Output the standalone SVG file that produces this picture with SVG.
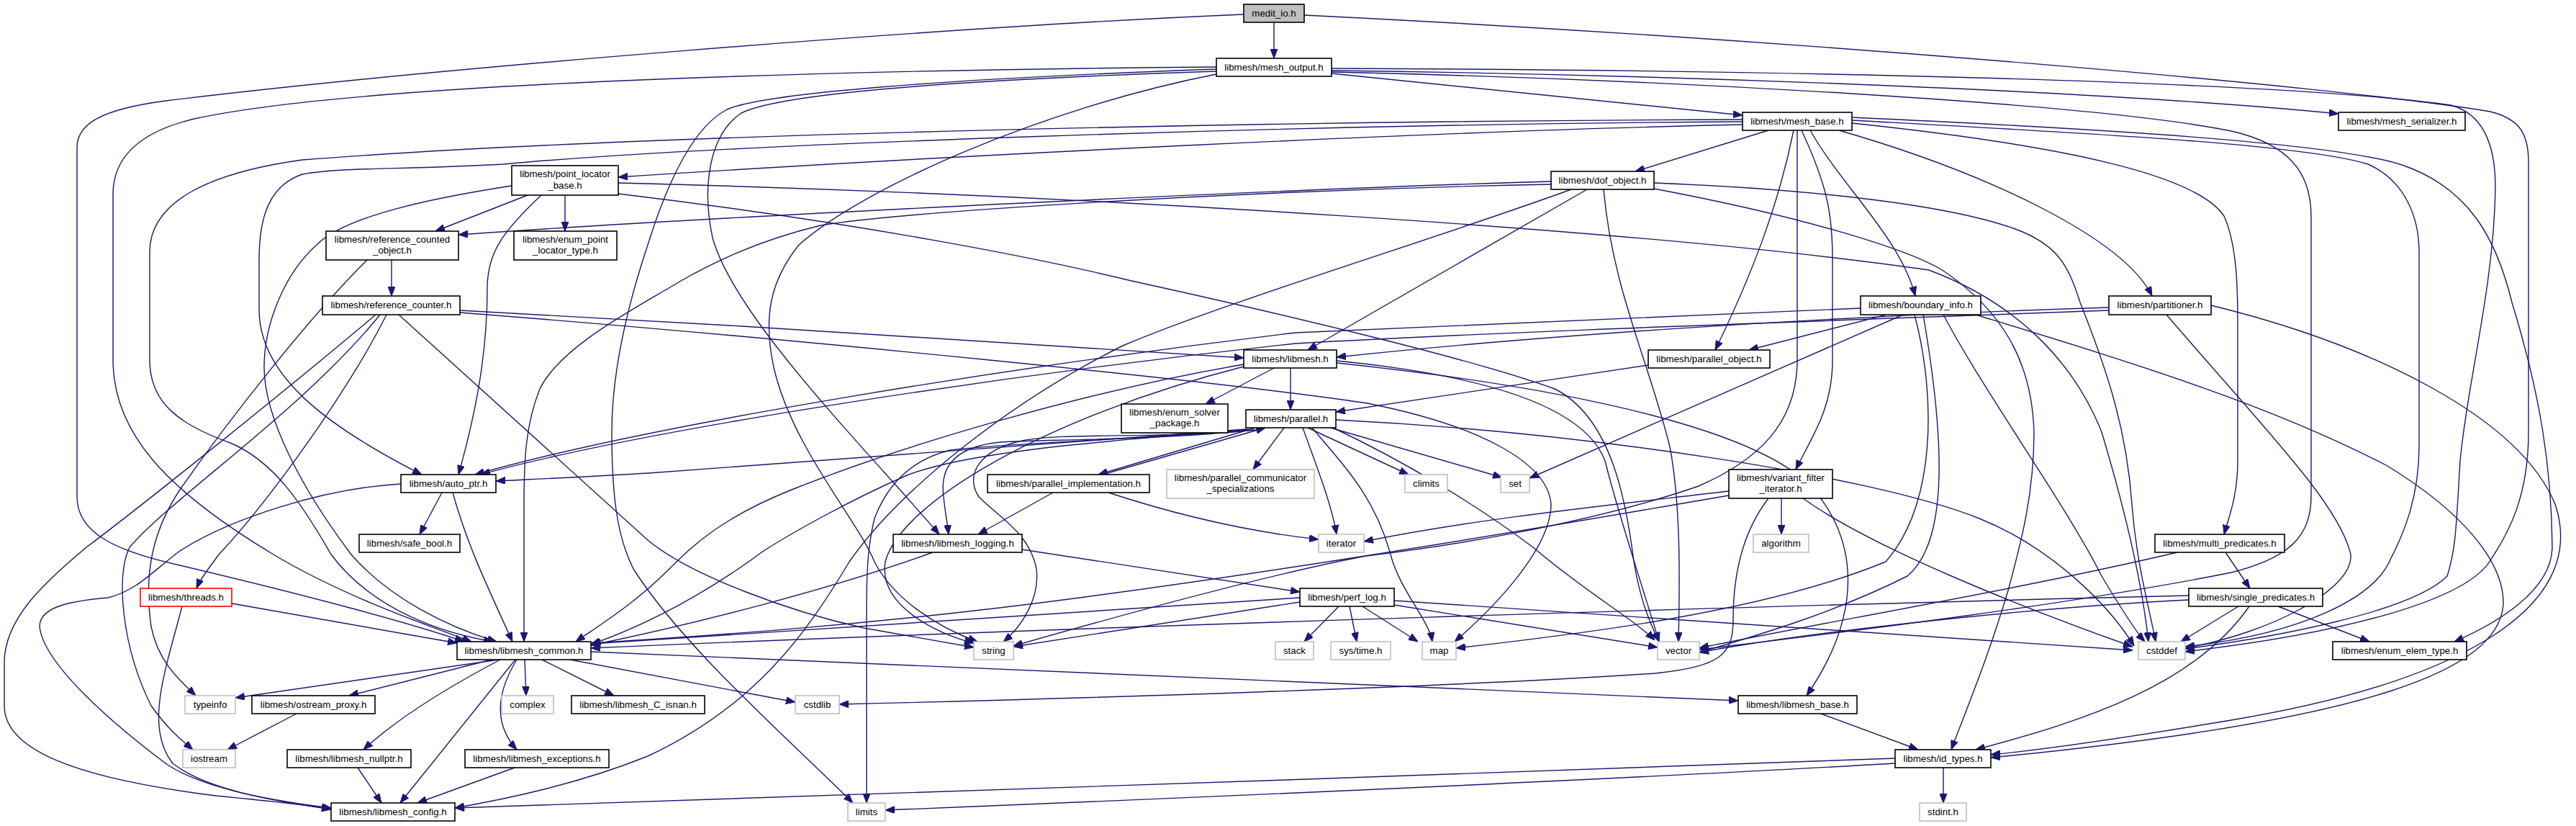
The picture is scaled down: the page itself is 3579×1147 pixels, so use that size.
<svg xmlns="http://www.w3.org/2000/svg" width="3579" height="1147" viewBox="0 0 3579 1147">
<defs>
<marker id="a" viewBox="0 0 13 10" markerWidth="13" markerHeight="10" refX="13" refY="5" orient="auto" markerUnits="userSpaceOnUse"><path d="M0,0 L13,5 L0,10 z" fill="#191970" stroke="#191970" stroke-width="1"/></marker>
<style>
.e path{fill:none;stroke:#191970;stroke-width:1.4;marker-end:url(#a)}
.n rect{fill:#fff;stroke:#000;stroke-width:1.6}
.g rect{fill:#fff;stroke:#bfbfbf;stroke-width:1.6}
.r rect{fill:#fff;stroke:#ff0000;stroke-width:1.6}
.m rect{fill:#bfbfbf;stroke:#000;stroke-width:1.6}
text{font-family:"Liberation Sans",Arial,sans-serif;font-size:13.3px;text-anchor:middle;fill:#000}
</style>
</defs>
<rect x="0" y="0" width="3579" height="1147" fill="#fff"/>
<g id="edges" class="e">
<path d="M1770,31 L1770,81"/>
<path d="M1728,20 C1300,38 600,95 230,140 C140,152 107,172 107,205 L107,690 C107,740 160,765 250,785 C420,825 570,865 645,891"/>
<path d="M1812,21 C2500,55 3250,120 3460,155 C3500,165 3513,185 3513,225 L3513,600 C3513,690 3485,740 3462,775 C3430,835 3250,880 3036,905"/>
<path d="M1850,102 L2421,160"/>
<path d="M1850,98 C2350,104 2950,128 3249,158"/>
<path d="M1850,95 C2400,97 3150,110 3405,146 C3450,158 3467,200 3467,260 C3465,400 3428,530 3418,640 C3413,720 3413,760 3400,800 C3350,850 3160,885 3036,901"/>
<path d="M1850,100 C2300,110 2900,142 3100,182 C3180,200 3211,240 3211,300 L3211,690 C3211,745 3180,775 3100,795 C2850,845 2500,885 2361,902"/>
<path d="M1690,93 C1300,96 520,110 270,165 C185,185 157,225 157,270 L157,500 C157,600 230,680 380,770 C480,830 600,870 655,891"/>
<path d="M1690,96 C1300,110 1060,130 1010,152 C960,178 925,260 900,340 C880,400 850,500 850,600 C850,700 860,750 880,790 C950,900 1100,1030 1185,1115"/>
<path d="M1690,99 C1300,112 1080,132 1030,157 C985,187 975,260 990,330 C1020,440 1200,620 1305,742"/>
<path d="M1690,103 C1450,150 1200,260 1110,340 C1070,390 1060,440 1075,510 C1100,620 1190,720 1215,780 C1240,830 1300,870 1358,891"/>
<path d="M2421,173 C2000,182 1300,217 859,246"/>
<path d="M2421,166 C1800,168 900,185 420,222 C290,240 208,280 208,350 L208,500 C208,560 250,590 320,615 C380,640 420,700 460,770 C520,850 620,880 685,891"/>
<path d="M2421,169 C1800,173 1000,200 700,228 C560,236 470,232 420,242 C375,257 360,300 360,360 L360,430 C360,520 450,590 586,659"/>
<path d="M2457,181 L2272,238"/>
<path d="M2515,181 C2560,260 2640,330 2661,411"/>
<path d="M2555,181 C2760,240 2950,330 2990,411"/>
<path d="M2492,181 C2470,290 2430,390 2383,486"/>
<path d="M2497,181 L2497,500 C2497,590 2440,640 2360,675 C2200,730 2000,760 1898,772 C1750,800 1520,865 1408,897"/>
<path d="M2503,181 C2540,260 2546,300 2546,360 L2546,500 C2546,570 2515,610 2495,652"/>
<path d="M2573,167 C2900,185 3200,200 3290,228 C3340,250 3361,300 3361,350 L3361,620 C3361,690 3340,740 3322,775 C3300,830 3200,880 3036,898"/>
<path d="M2573,163 C2900,178 3250,198 3340,230 C3430,262 3468,330 3490,420 C3530,550 3545,650 3546,760 C3545,820 3470,865 3410,891"/>
<path d="M2573,171 C2850,200 3050,240 3090,300 C3108,340 3109,400 3109,450 L3109,640 C3109,690 3096,720 3090,742"/>
<path d="M733,271 L605,321"/>
<path d="M752,271 C700,320 677,350 677,400 C677,480 665,560 637,659"/>
<path d="M785,271 L785,321"/>
<path d="M711,258 C600,275 480,300 440,340 C395,380 367,450 367,510 C367,580 420,680 488,770 C540,830 620,870 690,891"/>
<path d="M859,254 C1500,270 2300,320 2680,375 C2800,420 2880,500 2920,600 C2950,700 2975,800 2985,891"/>
<path d="M859,269 C1200,310 1450,360 1572,390 C1800,440 2050,500 2160,540 C2240,580 2260,700 2270,780 C2280,840 2295,870 2305,891"/>
<path d="M2155,252 C1800,262 1000,300 637,326"/>
<path d="M2155,256 C1700,265 1250,295 1140,313 C1050,335 990,365 946,390 C880,430 780,480 750,540 C730,590 728,640 728,700 L728,891"/>
<path d="M2205,263 L1817,486"/>
<path d="M2183,263 C2000,330 1700,420 1560,480 C1400,560 1250,680 1180,780 C1120,880 1050,980 900,1050 C800,1090 700,1110 632,1122"/>
<path d="M2228,263 C2240,400 2290,500 2320,620 C2335,700 2334,800 2332,891"/>
<path d="M2298,254 C2500,262 2700,282 2800,318 C2860,340 2874,370 2890,420 C2930,520 2955,600 2962,700 C2968,780 2985,840 2995,891"/>
<path d="M2298,262 C2500,300 2650,345 2700,376 C2780,430 2823,500 2826,600 C2826,690 2806,760 2790,820 C2760,920 2730,990 2711,1041"/>
<path d="M544,361 L544,411"/>
<path d="M510,361 C430,440 320,580 250,680 C210,740 200,800 210,870 C220,920 250,945 272,966"/>
<path d="M639,431 C1000,450 1400,475 1728,497"/>
<path d="M639,434 C1100,470 1700,530 1900,560 C2050,590 2150,640 2155,700 C2155,760 2080,840 2021,891"/>
<path d="M522,437 C400,540 200,700 120,760 C60,810 6,860 6,920 L6,980 C6,1040 100,1080 300,1105 C380,1113 430,1118 460,1123"/>
<path d="M537,437 C480,550 370,700 304,770 C290,790 280,800 273,817"/>
<path d="M528,437 C420,570 240,690 180,760 C160,800 170,900 210,980 C235,1015 255,1030 268,1041"/>
<path d="M554,437 L900,750 C960,800 1100,850 1200,872 C1290,888 1330,895 1353,899"/>
<path d="M322,838 L635,893"/>
<path d="M253,842 C230,930 200,1010 240,1060 C290,1100 400,1115 460,1124"/>
<path d="M2621,437 L2430,486"/>
<path d="M2585,428 C2300,440 2000,455 1800,462 C1400,510 900,590 660,659"/>
<path d="M2644,437 L2125,664"/>
<path d="M2660,437 C2690,550 2690,700 2620,780 C2450,850 2200,880 2023,900"/>
<path d="M2672,437 C2700,600 2710,750 2650,800 C2550,850 2450,880 2361,906"/>
<path d="M2700,437 C2760,550 2870,700 2920,800 C2950,850 2970,880 2980,891"/>
<path d="M2745,437 C2950,500 3150,560 3317,647 C3420,710 3480,780 3478,840 C3470,930 3300,1000 2766,1052"/>
<path d="M2930,427 C2500,440 2100,470 1857,496"/>
<path d="M2930,431 C2500,447 2100,460 1800,477 C1400,520 900,595 668,659"/>
<path d="M3010,437 C3150,600 3250,700 3266,770 C3270,820 3150,880 3036,900"/>
<path d="M3072,424 C3300,480 3500,580 3550,700 C3600,850 3400,950 3100,1000 C2950,1025 2850,1040 2766,1048"/>
<path d="M1770,511 L1675,561"/>
<path d="M1793,511 L1793,569"/>
<path d="M1728,506 C1500,545 1250,620 1100,680 C1000,720 960,760 930,790 C880,840 830,870 800,891"/>
<path d="M1728,509 C1450,580 1250,700 1230,780 C1220,840 1300,880 1353,893"/>
<path d="M1857,501 C2050,520 2200,560 2230,640 C2250,720 2290,840 2305,891"/>
<path d="M1857,504 C2200,540 2450,600 2520,680 C2580,750 2590,850 2510,966"/>
<path d="M2290,507 L1856,572"/>
<path d="M1744,594 L1526,659"/>
<path d="M1532,659 L1758,594"/>
<path d="M1784,594 L1741,652"/>
<path d="M1817,594 L1957,659"/>
<path d="M1845,593 L2087,663"/>
<path d="M1810,594 C1830,650 1850,700 1857,742"/>
<path d="M1823,594 C1870,650 1910,690 1932,770 C1945,820 1985,860 1990,891"/>
<path d="M1850,593 C1950,640 2050,700 2130,760 C2200,820 2270,860 2299,889"/>
<path d="M1856,583 C2200,600 2600,660 2750,720 C2850,760 2930,840 2965,897"/>
<path d="M1731,596 C1500,612 1200,635 900,657 C820,662 750,665 689,668"/>
<path d="M1735,596 C1550,612 1350,625 1260,660 C1180,695 1100,740 1061,765 C1000,810 920,860 821,895"/>
<path d="M1742,597 C1600,612 1450,610 1390,614 C1330,620 1305,645 1311,690 C1313,710 1316,725 1318,742"/>
<path d="M1745,597 C1600,610 1480,600 1420,612 C1360,625 1340,660 1360,690 C1390,720 1430,740 1440,790 C1445,830 1420,870 1394,891"/>
<path d="M1738,597 C1550,612 1400,615 1320,625 C1260,640 1230,680 1215,720 C1205,760 1204,800 1204,850 L1204,1115"/>
<path d="M1463,684 L1359,742"/>
<path d="M1540,684 C1650,720 1750,740 1832,749"/>
<path d="M2402,682 C2250,700 2050,720 1895,752"/>
<path d="M2475,692 L2475,742"/>
<path d="M2402,688 C2100,740 1800,790 1500,830 C1200,870 950,885 821,893"/>
<path d="M2505,692 C2600,760 2800,840 2963,898"/>
<path d="M2457,692 C2420,740 2408,800 2408,860 C2408,910 2390,925 2300,935 C2000,955 1500,970 1166,978"/>
<path d="M1420,763 L1806,822"/>
<path d="M1296,767 C1150,820 950,870 821,896"/>
<path d="M1860,842 L1812,891"/>
<path d="M1875,842 L1885,891"/>
<path d="M1893,842 L1970,891"/>
<path d="M1937,840 L2303,899"/>
<path d="M1937,834 L2963,903"/>
<path d="M1806,836 L1408,898"/>
<path d="M1806,830 L821,894"/>
<path d="M3092,767 L3126,817"/>
<path d="M3025,767 C2800,820 2500,870 2361,900"/>
<path d="M3110,842 L3030,891"/>
<path d="M3125,842 C3050,950 2900,1000 2745,1041"/>
<path d="M3165,842 L3292,891"/>
<path d="M3041,833 C2800,845 2500,880 2361,906"/>
<path d="M3041,827 C2500,840 1500,870 821,900"/>
<path d="M693,916 L327,969"/>
<path d="M683,916 L485,966"/>
<path d="M695,916 C640,945 560,990 505,1041"/>
<path d="M716,916 L556,1115"/>
<path d="M718,916 C685,970 690,1010 718,1041"/>
<path d="M729,916 L731,966"/>
<path d="M753,916 L853,966"/>
<path d="M792,916 L1105,975"/>
<path d="M821,905 C1500,935 2100,955 2415,973"/>
<path d="M412,991 L316,1041"/>
<path d="M497,1066 L530,1115"/>
<path d="M715,1066 L580,1115"/>
<path d="M2530,991 L2665,1041"/>
<path d="M2700,1066 L2700,1115"/>
<path d="M2633,1053 C2000,1075 1200,1105 632,1122"/>
<path d="M2633,1060 C2200,1085 1600,1110 1230,1125"/>
<path d="M614,684 L583,742"/>
<path d="M629,684 C650,760 680,820 712,891"/>
<path d="M557,672 C450,678 320,720 250,765 C210,795 190,820 150,830 C90,835 55,845 55,870 C60,920 150,1000 230,1060 C280,1095 380,1112 460,1122"/>
</g>
<g id="node-medit_io" class="m"><rect x="1728" y="6" width="84" height="25"/><text x="1770" y="23">medit_io.h</text></g>
<g id="node-mesh_output" class="n"><rect x="1690" y="81" width="160" height="25"/><text x="1770" y="98">libmesh/mesh_output.h</text></g>
<g id="node-mesh_base" class="n"><rect x="2421" y="156" width="152" height="25"/><text x="2497" y="173">libmesh/mesh_base.h</text></g>
<g id="node-mesh_serializer" class="n"><rect x="3249" y="156" width="176" height="25"/><text x="3337" y="173">libmesh/mesh_serializer.h</text></g>
<g id="node-point_locator_base" class="n"><rect x="711" y="230" width="148" height="41"/><text x="785" y="246">libmesh/point_locator</text><text x="785" y="262">_base.h</text></g>
<g id="node-dof_object" class="n"><rect x="2155" y="238" width="143" height="25"/><text x="2226.5" y="255">libmesh/dof_object.h</text></g>
<g id="node-reference_counted_object" class="n"><rect x="453" y="321" width="184" height="40"/><text x="545" y="337">libmesh/reference_counted</text><text x="545" y="352">_object.h</text></g>
<g id="node-enum_point_locator_type" class="n"><rect x="714" y="321" width="143" height="40"/><text x="785.5" y="337">libmesh/enum_point</text><text x="785.5" y="352">_locator_type.h</text></g>
<g id="node-reference_counter" class="n"><rect x="448" y="411" width="191" height="26"/><text x="543.5" y="428">libmesh/reference_counter.h</text></g>
<g id="node-boundary_info" class="n"><rect x="2585" y="411" width="167" height="26"/><text x="2668.5" y="428">libmesh/boundary_info.h</text></g>
<g id="node-partitioner" class="n"><rect x="2930" y="411" width="142" height="26"/><text x="3001" y="428">libmesh/partitioner.h</text></g>
<g id="node-libmesh" class="n"><rect x="1728" y="486" width="129" height="25"/><text x="1792.5" y="503">libmesh/libmesh.h</text></g>
<g id="node-parallel_object" class="n"><rect x="2290" y="486" width="169" height="25"/><text x="2374.5" y="503">libmesh/parallel_object.h</text></g>
<g id="node-enum_solver_package" class="n"><rect x="1558" y="561" width="148" height="40"/><text x="1632" y="577">libmesh/enum_solver</text><text x="1632" y="592">_package.h</text></g>
<g id="node-parallel" class="n"><rect x="1731" y="569" width="125" height="25"/><text x="1793.5" y="586">libmesh/parallel.h</text></g>
<g id="node-auto_ptr" class="n"><rect x="557" y="659" width="132" height="25"/><text x="623" y="676">libmesh/auto_ptr.h</text></g>
<g id="node-parallel_implementation" class="n"><rect x="1372" y="659" width="225" height="25"/><text x="1484.5" y="676">libmesh/parallel_implementation.h</text></g>
<g id="node-parallel_communicator_specializations" class="g"><rect x="1621" y="652" width="205" height="40"/><text x="1723.5" y="668">libmesh/parallel_communicator</text><text x="1723.5" y="683">_specializations</text></g>
<g id="node-climits" class="g"><rect x="1952" y="659" width="59" height="25"/><text x="1981.5" y="676">climits</text></g>
<g id="node-set" class="g"><rect x="2085" y="659" width="40" height="25"/><text x="2105" y="676">set</text></g>
<g id="node-variant_filter_iterator" class="n"><rect x="2402" y="652" width="144" height="40"/><text x="2474" y="668">libmesh/variant_filter</text><text x="2474" y="683">_iterator.h</text></g>
<g id="node-safe_bool" class="n"><rect x="499" y="742" width="140" height="25"/><text x="569" y="759">libmesh/safe_bool.h</text></g>
<g id="node-libmesh_logging" class="n"><rect x="1241" y="742" width="179" height="25"/><text x="1330.5" y="759">libmesh/libmesh_logging.h</text></g>
<g id="node-iterator" class="g"><rect x="1832" y="742" width="63" height="25"/><text x="1863.5" y="759">iterator</text></g>
<g id="node-algorithm" class="g"><rect x="2436" y="742" width="77" height="25"/><text x="2474.5" y="759">algorithm</text></g>
<g id="node-multi_predicates" class="n"><rect x="2994" y="742" width="180" height="25"/><text x="3084" y="759">libmesh/multi_predicates.h</text></g>
<g id="node-threads" class="r"><rect x="195" y="817" width="127" height="25"/><text x="258.5" y="834">libmesh/threads.h</text></g>
<g id="node-perf_log" class="n"><rect x="1806" y="817" width="131" height="25"/><text x="1871.5" y="834">libmesh/perf_log.h</text></g>
<g id="node-single_predicates" class="n"><rect x="3041" y="817" width="186" height="25"/><text x="3134" y="834">libmesh/single_predicates.h</text></g>
<g id="node-libmesh_common" class="n"><rect x="635" y="891" width="186" height="25"/><text x="728" y="908">libmesh/libmesh_common.h</text></g>
<g id="node-string" class="g"><rect x="1353" y="891" width="55" height="25"/><text x="1380.5" y="908">string</text></g>
<g id="node-stack" class="g"><rect x="1772" y="891" width="53" height="25"/><text x="1798.5" y="908">stack</text></g>
<g id="node-sys_time" class="g"><rect x="1849" y="891" width="83" height="25"/><text x="1890.5" y="908">sys/time.h</text></g>
<g id="node-map" class="g"><rect x="1976" y="891" width="47" height="25"/><text x="1999.5" y="908">map</text></g>
<g id="node-vector" class="g"><rect x="2303" y="891" width="58" height="25"/><text x="2332" y="908">vector</text></g>
<g id="node-cstddef" class="g"><rect x="2971" y="891" width="65" height="25"/><text x="3003.5" y="908">cstddef</text></g>
<g id="node-enum_elem_type" class="n"><rect x="3241" y="891" width="186" height="25"/><text x="3334" y="908">libmesh/enum_elem_type.h</text></g>
<g id="node-typeinfo" class="g"><rect x="257" y="966" width="70" height="25"/><text x="292" y="983">typeinfo</text></g>
<g id="node-ostream_proxy" class="n"><rect x="350" y="966" width="171" height="25"/><text x="435.5" y="983">libmesh/ostream_proxy.h</text></g>
<g id="node-complex" class="g"><rect x="697" y="966" width="72" height="25"/><text x="733" y="983">complex</text></g>
<g id="node-libmesh_C_isnan" class="n"><rect x="794" y="966" width="185" height="25"/><text x="886.5" y="983">libmesh/libmesh_C_isnan.h</text></g>
<g id="node-cstdlib" class="g"><rect x="1105" y="966" width="61" height="25"/><text x="1135.5" y="983">cstdlib</text></g>
<g id="node-libmesh_base" class="n"><rect x="2415" y="966" width="165" height="25"/><text x="2497.5" y="983">libmesh/libmesh_base.h</text></g>
<g id="node-iostream" class="g"><rect x="254" y="1041" width="73" height="25"/><text x="290.5" y="1058">iostream</text></g>
<g id="node-libmesh_nullptr" class="n"><rect x="399" y="1041" width="172" height="25"/><text x="485" y="1058">libmesh/libmesh_nullptr.h</text></g>
<g id="node-libmesh_exceptions" class="n"><rect x="646" y="1041" width="200" height="25"/><text x="746" y="1058">libmesh/libmesh_exceptions.h</text></g>
<g id="node-id_types" class="n"><rect x="2633" y="1041" width="133" height="25"/><text x="2699.5" y="1058">libmesh/id_types.h</text></g>
<g id="node-libmesh_config" class="n"><rect x="460" y="1115" width="172" height="25"/><text x="546" y="1132">libmesh/libmesh_config.h</text></g>
<g id="node-limits" class="g"><rect x="1178" y="1115" width="52" height="25"/><text x="1204" y="1132">limits</text></g>
<g id="node-stdint" class="g"><rect x="2667" y="1115" width="65" height="25"/><text x="2699.5" y="1132">stdint.h</text></g>
</svg>
